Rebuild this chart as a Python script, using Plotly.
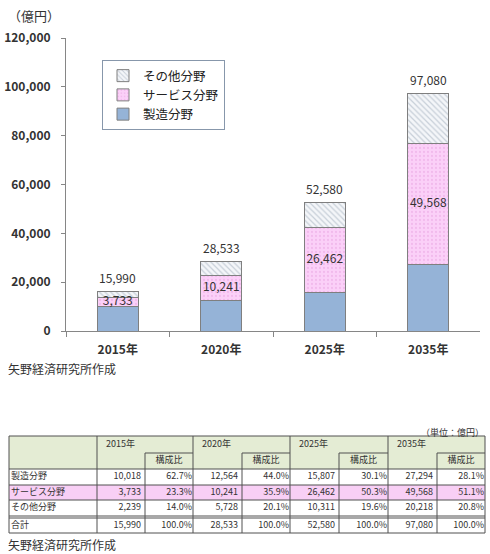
import plotly.graph_objects as go

# ---------------- data ----------------
years = ["2015年", "2020年", "2025年", "2035年"]
manufacturing = [10018, 12564, 15807, 27294]
service = [3733, 10241, 26462, 49568]
other = [2239, 5728, 10311, 20218]
totals = [15990, 28533, 52580, 97080]

manufacturing_ratio = [62.7, 44.0, 30.1, 28.1]
service_ratio = [23.3, 35.9, 50.3, 51.1]
other_ratio = [14.0, 20.1, 19.6, 20.8]
total_ratio = [100.0, 100.0, 100.0, 100.0]

series_names = ["製造分野", "サービス分野", "その他分野"]
row_labels = ["製造分野", "サービス分野", "その他分野", "合計"]
y_ticks = [0, 20000, 40000, 60000, 80000, 100000, 120000]

# ---------------- layout constants ----------------
W, H = 490, 554
FONT = "Noto Sans CJK JP, Noto Sans, sans-serif"
TXT = "#333333"
AX = "#868686"

def px(x):
    return x / W

def py(y):
    return 1 - y / H

fig = go.Figure()

# stacked bars
fig.add_trace(go.Bar(
    x=years, y=manufacturing, name=series_names[0], width=0.4,
    marker=dict(color="#95b3d7", line=dict(color="#7f7f7f", width=1)),
    hoverinfo="skip"))
fig.add_trace(go.Bar(
    x=years, y=service, name=series_names[1], width=0.4,
    marker=dict(color="#fbd0f8", line=dict(color="#7f7f7f", width=1),
                pattern=dict(shape=".", fgcolor="#e7a3e2", bgcolor="#fbd0f8",
                             size=4, solidity=0.25)),
    hoverinfo="skip"))
fig.add_trace(go.Bar(
    x=years, y=other, name=series_names[2], width=0.4,
    marker=dict(color="#f1f4f8", line=dict(color="#7f7f7f", width=1),
                pattern=dict(shape="\\", fgcolor="#9aa7b8", bgcolor="#f4f6f9",
                             size=4, solidity=0.3)),
    hoverinfo="skip"))

# service labels inside the pink segment
fig.add_trace(go.Scatter(
    x=years, y=[m + s / 2 for m, s in zip(manufacturing, service)],
    text=[f"{v:,}" for v in service], mode="text",
    textfont=dict(family=FONT, size=12, color=TXT),
    showlegend=False, hoverinfo="skip", cliponaxis=False))

annotations = []
# total labels above bars
for yr, tot in zip(years, totals):
    annotations.append(dict(
        x=yr, y=tot, xref="x", yref="y", text=f"{tot:,}", showarrow=False,
        yanchor="middle", yshift=14,
        font=dict(family=FONT, size=12, color=TXT)))

# ---------------- table (drawn on its own pixel axes) ----------------
col_edges = [9, 97, 145, 193, 242, 290, 339, 388, 437, 485]
t_top, t_sub, t_head = 436, 453, 469
row_edges = [469, 485, 500, 516]
tot_top, tot_bot = 518, 533
row_tops = [469, 485, 500, 518]
row_bots = [485, 500, 516, 533]
row_centers = [(a + b) / 2 for a, b in zip(row_tops, row_bots)]
line_col = "#505050"
shapes = []

def tshape(**kw):
    d = dict(xref="x2", yref="y2", layer="below")
    d.update(kw)
    shapes.append(d)

# fills
tshape(type="rect", x0=col_edges[0], x1=col_edges[-1], y0=t_top, y1=t_head,
       fillcolor="#e4ecd4", line=dict(width=0))
tshape(type="rect", x0=col_edges[0], x1=col_edges[-1], y0=row_tops[1], y1=row_bots[1],
       fillcolor="#f8cff5", line=dict(width=0))

def tline(x0, y0, x1, y1):
    shapes.append(dict(type="line", xref="x2", yref="y2", x0=x0, y0=y0, x1=x1, y1=y1,
                       line=dict(color=line_col, width=1), layer="above"))

# outer border
tline(col_edges[0], t_top, col_edges[-1], t_top)
tline(col_edges[0], tot_bot, col_edges[-1], tot_bot)
tline(col_edges[0], t_top, col_edges[0], tot_bot)
tline(col_edges[-1], t_top, col_edges[-1], tot_bot)
# vertical group lines
for i in (1, 3, 5, 7):
    tline(col_edges[i], t_top, col_edges[i], tot_bot)
for i in (2, 4, 6, 8):
    tline(col_edges[i], t_sub, col_edges[i], tot_bot)
    tline(col_edges[i], t_sub, col_edges[i + 1], t_sub)
# horizontal lines
for yv in row_edges + [tot_top]:
    tline(col_edges[0], yv, col_edges[-1], yv)

tfont = dict(family=FONT, size=9, color=TXT)

# header texts
fig.add_trace(go.Scatter(
    x=[col_edges[1 + 2 * i] + 9 for i in range(4)], y=[(t_top + t_sub) / 2] * 4,
    text=years, mode="text", textposition="middle right", textfont=tfont,
    xaxis="x2", yaxis="y2", showlegend=False, hoverinfo="skip", cliponaxis=False))
fig.add_trace(go.Scatter(
    x=[(col_edges[2 + 2 * i] + col_edges[3 + 2 * i]) / 2 for i in range(4)],
    y=[(t_sub + t_head) / 2] * 4,
    text=["構成比"] * 4, mode="text", textposition="middle center", textfont=tfont,
    xaxis="x2", yaxis="y2", showlegend=False, hoverinfo="skip", cliponaxis=False))

# row labels
fig.add_trace(go.Scatter(
    x=[col_edges[0] + 2] * 4, y=row_centers, text=row_labels,
    mode="text", textposition="middle right", textfont=tfont,
    xaxis="x2", yaxis="y2", showlegend=False, hoverinfo="skip", cliponaxis=False))

value_rows = [manufacturing, service, other, totals]
ratio_rows = [manufacturing_ratio, service_ratio, other_ratio, total_ratio]
vx, vy, vt, rx, ry, rt = [], [], [], [], [], []
for r, (vals, rats) in enumerate(zip(value_rows, ratio_rows)):
    for i in range(4):
        vx.append(col_edges[2 + 2 * i] - 4)
        vy.append(row_centers[r])
        vt.append(f"{vals[i]:,}")
        rx.append(col_edges[3 + 2 * i] - 1)
        ry.append(row_centers[r])
        rt.append(f"{rats[i]:.1f}%")
fig.add_trace(go.Scatter(
    x=vx, y=vy, text=vt, mode="text", textposition="middle left", textfont=tfont,
    xaxis="x2", yaxis="y2", showlegend=False, hoverinfo="skip", cliponaxis=False))
fig.add_trace(go.Scatter(
    x=rx, y=ry, text=rt, mode="text", textposition="middle left", textfont=tfont,
    xaxis="x2", yaxis="y2", showlegend=False, hoverinfo="skip", cliponaxis=False))

annotations += [
    dict(text="（億円）", x=px(6), y=py(15), xref="paper", yref="paper",
         xanchor="left", yanchor="middle", showarrow=False,
         font=dict(family=FONT, size=13, color=TXT)),
    dict(text="矢野経済研究所作成", x=px(6), y=py(368), xref="paper", yref="paper",
         xanchor="left", yanchor="middle", showarrow=False,
         font=dict(family=FONT, size=12, color=TXT)),
    dict(text="（単位：億円）", x=px(486), y=py(432), xref="paper", yref="paper",
         xanchor="right", yanchor="middle", showarrow=False,
         font=dict(family=FONT, size=9, color=TXT)),
    dict(text="矢野経済研究所作成", x=px(6), y=py(544), xref="paper", yref="paper",
         xanchor="left", yanchor="middle", showarrow=False,
         font=dict(family=FONT, size=12, color=TXT)),
]

fig.update_layout(
    width=W, height=H,
    margin=dict(l=0, r=0, t=0, b=0, autoexpand=False),
    paper_bgcolor="white", plot_bgcolor="rgba(0,0,0,0)",
    barmode="stack",
    font=dict(family=FONT, color=TXT),
    showlegend=True,
    legend=dict(x=px(102), y=py(60), xanchor="left", yanchor="top",
                traceorder="reversed", bgcolor="white",
                bordercolor="#8797ab", borderwidth=1,
                font=dict(family=FONT, size=12.5, color="#222222"),
                itemwidth=30, tracegroupgap=0),
    xaxis=dict(domain=[px(66), px(480)], range=[-0.5, 3.5], type="category",
               showline=True, linecolor=AX, linewidth=1,
               ticks="outside", tickson="boundaries", ticklen=5, tickcolor=AX,
               ticklabelstandoff=8,
               tickfont=dict(family=FONT, size=12, color=TXT, weight="bold"),
               showgrid=False, zeroline=False, fixedrange=True),
    yaxis=dict(domain=[py(331), py(38)], range=[0, 120000],
               tickvals=y_ticks, ticktext=[f"{v:,}" for v in y_ticks],
               showline=True, linecolor=AX, linewidth=1,
               ticks="outside", ticklen=4, tickcolor=AX,
               ticklabelstandoff=8,
               tickfont=dict(family=FONT, size=12, color=TXT, weight="bold"),
               showgrid=False, zeroline=False, fixedrange=True),
    xaxis2=dict(domain=[0, 1], range=[0, W], visible=False, anchor="y2", fixedrange=True),
    yaxis2=dict(domain=[0, py(380)], range=[H, 380], visible=False, anchor="x2", fixedrange=True),
    shapes=shapes,
    annotations=annotations,
)

fig.write_html("out.html", config={"displayModeBar": False},
               post_script="document.body.style.margin='0px';")
